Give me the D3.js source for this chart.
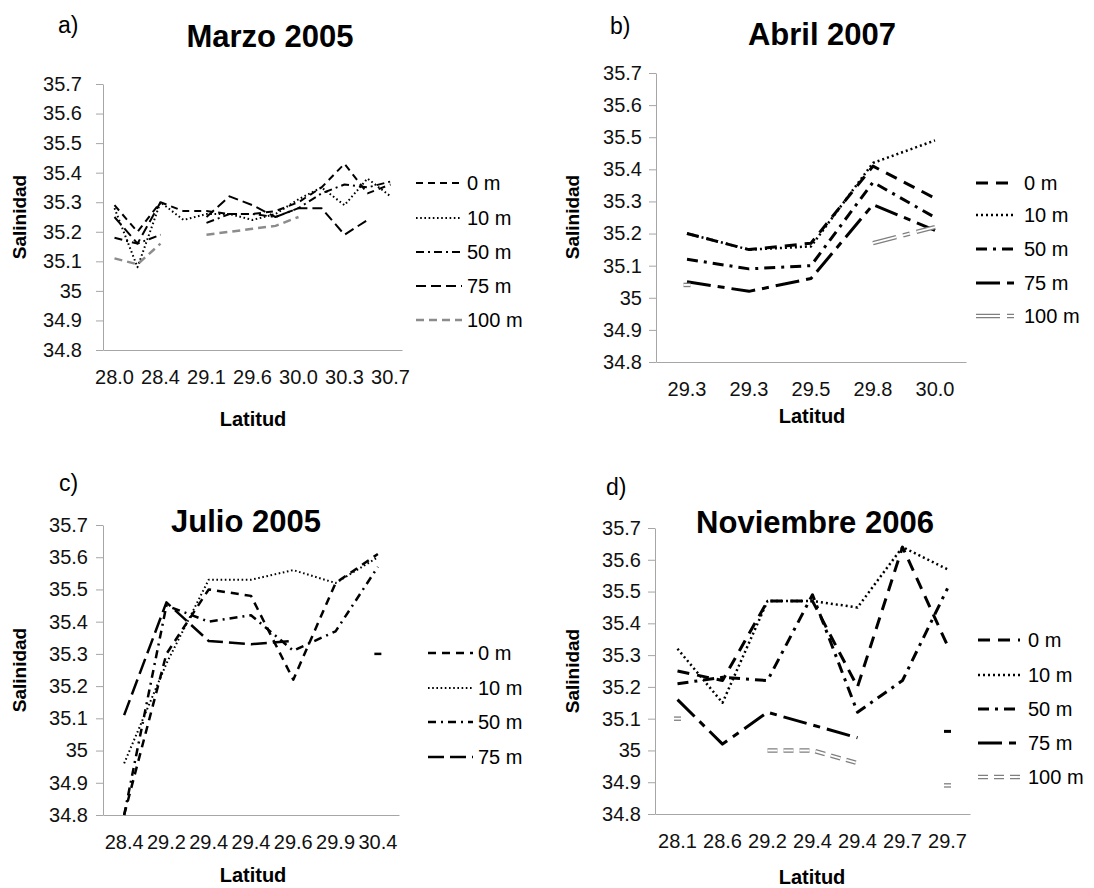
<!DOCTYPE html>
<html>
<head>
<meta charset="utf-8">
<script src="https://cdn.jsdelivr.net/npm/d3@7"></script>
<style>
	body { margin: 0; background: #fff; }
	svg { font-family: "Liberation Sans", Arial, sans-serif; }
	.axis path, .axis line { stroke: #a6a6a6; }
	.axis text { font-size: 20px; fill: #111; }
</style>
</head>
<body>
<svg id="chart" width="1094" height="888"></svg>
<script>

// ---- data ----
var seriesNames = ["0 m", "10 m", "50 m", "75 m", "100 m"];
var yTicks = [34.8, 34.9, 35.0, 35.1, 35.2, 35.3, 35.4, 35.5, 35.6, 35.7];

// a) Marzo 2005 (13 stations, every other label shown)
var latMarzo = ["28.0", "28.2", "28.4", "28.8", "29.1", "29.3", "29.6", "29.8", "30.0", "30.2", "30.3", "30.5", "30.7"];
var marzo0   = [35.29, 35.20, 35.30, 35.27, 35.27, 35.26, 35.26, 35.27, 35.30, 35.35, 35.43, 35.33, 35.36];
var marzo10  = [35.28, 35.08, 35.30, 35.24, 35.26, 35.26, 35.24, 35.26, 35.31, 35.35, 35.29, 35.38, 35.32];
var marzo50  = [35.18, 35.16, 35.19, null, 35.23, 35.26, 35.26, 35.25, 35.28, 35.33, 35.36, 35.35, 35.37];
var marzo75  = [35.25, 35.16, 35.30, null, 35.25, 35.32, 35.29, 35.25, 35.28, 35.28, 35.19, 35.24, null];
var marzo100 = [35.11, 35.09, 35.16, null, 35.19, 35.20, 35.21, 35.22, 35.25, null, null, null, null];

// b) Abril 2007
var latAbril = ["29.3", "29.3", "29.5", "29.8", "30.0"];
var abril0   = [35.20, 35.15, 35.17, 35.41, 35.31];
var abril10  = [35.20, 35.15, 35.16, 35.42, 35.49];
var abril50  = [35.12, 35.09, 35.10, 35.36, 35.25];
var abril75  = [35.05, 35.02, 35.06, 35.29, 35.21];
var abril100 = [35.04, null, null, 35.17, 35.22];

// c) Julio 2005
var latJulio = ["28.4", "29.2", "29.4", "29.4", "29.6", "29.9", "30.4"];
var julio0   = [34.80, 35.30, 35.50, 35.48, 35.22, 35.52, 35.61];
var julio10  = [34.96, 35.27, 35.53, 35.53, 35.56, 35.52, 35.60];
var julio50  = [34.80, 35.45, 35.40, 35.42, 35.31, 35.37, 35.57];
var julio75  = [35.11, 35.46, 35.34, 35.33, 35.34, null, 35.30];

// d) Noviembre 2006
var latNov = ["28.1", "28.6", "29.2", "29.4", "29.4", "29.7", "29.7"];
var nov0   = [35.25, 35.22, 35.47, 35.47, 35.20, 35.64, 35.33];
var nov10  = [35.32, 35.15, 35.47, 35.47, 35.45, 35.64, 35.57];
var nov50  = [35.21, 35.23, 35.22, 35.49, 35.12, 35.22, 35.51];
var nov75  = [35.16, 35.02, 35.12, 35.08, 35.04, null, 35.06];
var nov100 = [35.10, null, 35.00, 35.00, 34.96, null, 34.89];


// ---- line styles per panel ----
var thin = {
	"0 m":   { w: 2,   dash: "7,5" },
	"10 m":  { w: 2,   dash: "1.6,2.6" },
	"50 m":  { w: 2,   dash: "8,4,2,4" },
	"75 m":  { w: 2,   dash: "10,5" },
	"100 m": { w: 2.5, dash: "8,5", color: "#8c8c8c" }
};
var thick = {
	"0 m":   { w: 3,   dash: "12,8" },
	"10 m":  { w: 2.5, dash: "2,3" },
	"50 m":  { w: 3,   dash: "11,6,3,6" },
	"75 m":  { w: 3,   dash: "24,7,7,7" },
	"100 m": { w: 4.5, dash: "24,7,7,7", color: "#7f7f7f", inner: true }
};
var julioStyle = {
	"0 m":   { w: 2.5, dash: "8,6" },
	"10 m":  { w: 2,   dash: "1.6,2.6" },
	"50 m":  { w: 2.5, dash: "8,5,2,5" },
	"75 m":  { w: 2.5, dash: "16,6" }
};
var novStyle = Object.assign({}, thick, { "100 m": { w: 4.5, dash: "10,6", color: "#7f7f7f", inner: true } });

var panels = [
	{ tag: "a)", title: "Marzo 2005", cats: latMarzo, data: [marzo0, marzo10, marzo50, marzo75, marzo100],
		box: [103, 402, 84, 350], tickEvery: 2, pad: 14, style: thin,
		tagPos: [58, 33], titlePos: [270, 47], yTitle: [19, 217], xTitle: [253, 426],
		legend: { x1: 416, x2: 462, tx: 467, ys: [183, 218, 252, 286, 320] } },
	{ tag: "b)", title: "Abril 2007", cats: latAbril, data: [abril0, abril10, abril50, abril75, abril100],
		box: [656, 966, 73, 362], tickEvery: 1, pad: 7, style: thick,
		tagPos: [610, 34], titlePos: [822, 45], yTitle: [572, 217], xTitle: [812, 423],
		legend: { x1: 976, x2: 1016, tx: 1024, ys: [183, 215, 249, 283, 316] } },
	{ tag: "c)", title: "Julio 2005", cats: latJulio, data: [julio0, julio10, julio50, julio75],
		box: [103, 399, 525, 815], tickEvery: 1, pad: 8, style: julioStyle,
		tagPos: [59, 491], titlePos: [246, 532], yTitle: [19, 670], xTitle: [253, 882],
		legend: { x1: 428, x2: 473, tx: 478, ys: [653, 688, 722, 757] } },
	{ tag: "d)", title: "Noviembre 2006", cats: latNov, data: [nov0, nov10, nov50, nov75, nov100],
		box: [655, 970, 528, 814], tickEvery: 1, pad: 7, style: novStyle,
		tagPos: [606, 495], titlePos: [815, 533], yTitle: [572, 671], xTitle: [812, 884],
		legend: { x1: 978, x2: 1020, tx: 1028, ys: [640, 675, 709, 743, 777] } }
];

var svg = d3.select("#chart");

function drawPath(g, d, st) {
	var p = g.append("path")
		.attr("d", d)
		.attr("fill", "none")
		.attr("stroke", st.color || "#000")
		.attr("stroke-width", st.w)
		.attr("stroke-dasharray", st.dash)
		.attr("stroke-linejoin", "round");
	if (st.inner) {
		g.append("path")
			.attr("d", d)
			.attr("fill", "none")
			.attr("stroke", "#fff")
			.attr("stroke-width", st.w - 2.6)
			.attr("stroke-dasharray", st.dash)
			.attr("stroke-linejoin", "round");
	}
	return p;
}

panels.forEach(function(P){

	var left = P.box[0], right = P.box[1], top = P.box[2], bottom = P.box[3];
	var idx = d3.range(P.cats.length);

	var x = d3.scaleBand().domain(idx).range([left, right]).padding(0);
	var y = d3.scaleLinear().domain([34.8, 35.7]).range([bottom, top]);

	// axes
	var yAxis = d3.axisLeft(y)
		.tickValues(yTicks)
		.tickSizeInner(7).tickSizeOuter(0)
		.tickPadding(P.pad)
		.tickFormat(function(d){ return String(+d.toFixed(1)); });
	svg.append("g").attr("class", "axis").attr("transform", "translate(" + left + ",0)").call(yAxis);

	var xAxis = d3.axisBottom(x)
		.tickValues(idx.filter(function(i){ return i % P.tickEvery == 0; }))
		.tickSize(0).tickPadding(20)
		.tickFormat(function(i){ return P.cats[i]; });
	svg.append("g").attr("class", "axis").attr("transform", "translate(0," + bottom + ")").call(xAxis);

	svg.selectAll(".axis .domain").attr("stroke", "#a6a6a6");

	// titles
	svg.append("text").attr("x", P.tagPos[0]).attr("y", P.tagPos[1])
		.attr("font-size", 23).text(P.tag);
	svg.append("text").attr("x", P.titlePos[0]).attr("y", P.titlePos[1])
		.attr("text-anchor", "middle").attr("font-size", 31).attr("font-weight", "bold")
		.text(P.title);
	svg.append("text")
		.attr("transform", "translate(" + (P.yTitle[0] + 7) + "," + P.yTitle[1] + ") rotate(-90)")
		.attr("text-anchor", "middle").attr("font-size", 19).attr("font-weight", "bold")
		.text("Salinidad");
	svg.append("text").attr("x", P.xTitle[0]).attr("y", P.xTitle[1])
		.attr("text-anchor", "middle").attr("font-size", 20).attr("font-weight", "bold")
		.text("Latitud");

	// series lines
	var line = d3.line()
		.defined(function(d){ return d != null; })
		.x(function(d, i){ return x(i) + x.bandwidth() / 2; })
		.y(function(d){ return y(d); });

	var plot = svg.append("g");
	P.data.forEach(function(values, s){
		var st = P.style[seriesNames[s]];
		drawPath(plot, line(values), st);

		// isolated points show up as a short stub
		values.forEach(function(v, i){
			if (v == null) return;
			var prev = i > 0 ? values[i-1] : null;
			var next = i < values.length - 1 ? values[i+1] : null;
			if (prev == null && next == null) {
				var cx = x(i) + x.bandwidth() / 2;
				drawPath(plot, "M" + (cx - 3.5) + "," + y(v) + "H" + (cx + 3.5), Object.assign({}, st, { dash: null }));
			}
		});
	});

	// legend
	var L = P.legend;
	P.data.forEach(function(values, s){
		var name = seriesNames[s];
		var st = P.style[name];
		var ly = L.ys[s];
		drawPath(svg, "M" + L.x1 + "," + ly + "H" + L.x2, st);
		svg.append("text").attr("x", L.tx).attr("y", ly).attr("dy", "0.36em")
			.attr("font-size", 20).text(name);
	});
});

</script>
</body>
</html>
